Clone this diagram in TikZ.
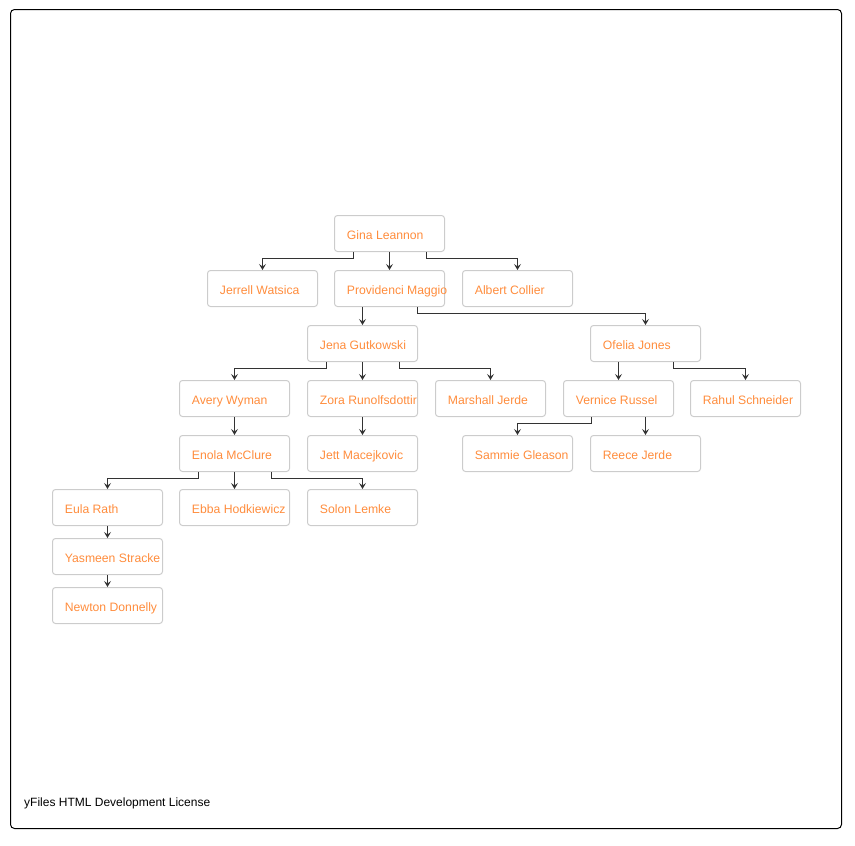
\documentclass[tikz,border=0pt]{standalone}
\usepackage{fontspec}
\setmainfont{Liberation Sans}
\usetikzlibrary{arrows.meta}
\definecolor{lbl}{RGB}{255,140,60}
\definecolor{boxline}{RGB}{204,204,204}
\definecolor{edgecol}{RGB}{51,51,51}
\tikzset{
  personbox/.style={draw=boxline, line width=1pt, rounded corners=3pt, minimum width=110pt, minimum height=36pt, inner sep=0pt, anchor=north west},
  nametext/.style={anchor=base west, text=lbl, inner sep=0pt, xshift=12.7pt, yshift=-6.3pt, font=\fontsize{12.2}{14}\selectfont},
  conn/.style={draw=edgecol, line width=0.9pt, -{Stealth[length=6pt,width=7pt,inset=2.5pt]}},
}
\begin{document}
\begin{tikzpicture}[x=1pt,y=-1pt]
\useasboundingbox (0,0) rectangle (855,846);
\draw[line width=1pt, rounded corners=4pt] (10.5,9.5) rectangle (841.5,828.5);
% boxes
\node[personbox] (gina) at (334,215) {};
\node[personbox] (jerrell) at (207,270) {};
\node[personbox] (prov) at (334,270) {};
\node[personbox] (albert) at (462,270) {};
\node[personbox] (jena) at (307,325) {};
\node[personbox] (ofelia) at (590,325) {};
\node[personbox] (avery) at (179,380) {};
\node[personbox] (zora) at (307,380) {};
\node[personbox] (marshall) at (435,380) {};
\node[personbox] (vernice) at (563,380) {};
\node[personbox] (rahul) at (690,380) {};
\node[personbox] (enola) at (179,435) {};
\node[personbox] (jett) at (307,435) {};
\node[personbox] (sammie) at (462,435) {};
\node[personbox] (reece) at (590,435) {};
\node[personbox] (eula) at (52,489) {};
\node[personbox] (ebba) at (179,489) {};
\node[personbox] (solon) at (307,489) {};
\node[personbox] (yasmeen) at (52,538) {};
\node[personbox] (newton) at (52,587) {};
% labels
\node[nametext] (tgina) at (gina.west) {Gina Leannon};
\node[nametext] (tjerrell) at (jerrell.west) {Jerrell Watsica};
\node[nametext] (tprov) at (prov.west) {Providenci Maggio};
\node[nametext] (talbert) at (albert.west) {Albert Collier};
\node[nametext] (tjena) at (jena.west) {Jena Gutkowski};
\node[nametext] (tofelia) at (ofelia.west) {Ofelia Jones};
\node[nametext] (tavery) at (avery.west) {Avery Wyman};
\begin{scope}
\clip ([xshift=0.5pt]zora.south west) rectangle ([xshift=-0.5pt]zora.north east);
\node[nametext] (tzora) at (zora.west) {Zora Runolfsdottir};
\end{scope}
\node[nametext] (tmarshall) at (marshall.west) {Marshall Jerde};
\node[nametext] (tvernice) at (vernice.west) {Vernice Russel};
\node[nametext] (trahul) at (rahul.west) {Rahul Schneider};
\node[nametext] (tenola) at (enola.west) {Enola McClure};
\node[nametext] (tjett) at (jett.west) {Jett Macejkovic};
\node[nametext] (tsammie) at (sammie.west) {Sammie Gleason};
\node[nametext] (treece) at (reece.west) {Reece Jerde};
\node[nametext] (teula) at (eula.west) {Eula Rath};
\node[nametext] (tebba) at (ebba.west) {Ebba Hodkiewicz};
\node[nametext] (tsolon) at (solon.west) {Solon Lemke};
\node[nametext] (tyasmeen) at (yasmeen.west) {Yasmeen Stracke};
\node[nametext] (tnewton) at (newton.west) {Newton Donnelly};
% edges
\draw[conn] ([xshift=-36.5pt]gina.south) -- ++(0,6) -| (jerrell.north);
\draw[conn] (gina.south) -- (prov.north);
\draw[conn] ([xshift=36.5pt]gina.south) -- ++(0,6) -| (albert.north);
\draw[conn] (jena.north |- prov.south) -- (jena.north);
\draw[conn] ([xshift=27.5pt]prov.south) -- ++(0,6) -| (ofelia.north);
\draw[conn] ([xshift=-36.5pt]jena.south) -- ++(0,6) -| (avery.north);
\draw[conn] (jena.south) -- (zora.north);
\draw[conn] ([xshift=36.5pt]jena.south) -- ++(0,6) -| (marshall.north);
\draw[conn] (vernice.north |- ofelia.south) -- (vernice.north);
\draw[conn] ([xshift=27.5pt]ofelia.south) -- ++(0,6) -| (rahul.north);
\draw[conn] (avery.south) -- (enola.north);
\draw[conn] (zora.south) -- (jett.north);
\draw[conn] ([xshift=-27.5pt]vernice.south) -- ++(0,6) -| (sammie.north);
\draw[conn] (reece.north |- vernice.south) -- (reece.north);
\draw[conn] ([xshift=-36.5pt]enola.south) -- ++(0,6) -| (eula.north);
\draw[conn] (enola.south) -- (ebba.north);
\draw[conn] ([xshift=36.5pt]enola.south) -- ++(0,6) -| (solon.north);
\draw[conn] (eula.south) -- (yasmeen.north);
\draw[conn] (yasmeen.south) -- (newton.north);
% footer
\node[anchor=base west, inner sep=0pt, font=\fontsize{12}{14}\selectfont] (lic) at (24,806) {yFiles HTML Development License};
\end{tikzpicture}
\end{document}
